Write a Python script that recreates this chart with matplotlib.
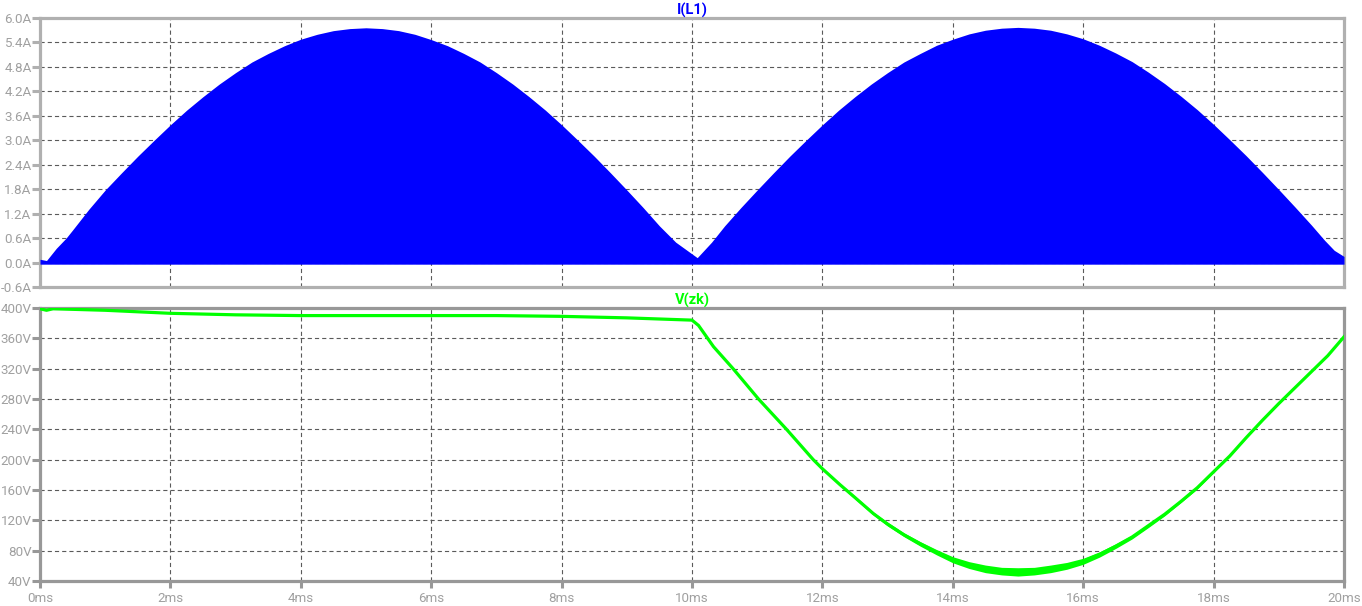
import matplotlib
matplotlib.use("Agg")
import numpy as np
import matplotlib.pyplot as plt

# I(L1): upper envelope of the switched inductor current (A)
t_il = [0, 0.1, 0.15, 0.25, 0.4, 0.5, 0.75, 1.0, 1.25, 1.5, 1.75, 2.0, 2.25, 2.5,
        2.75, 3.0, 3.25, 3.5, 3.75, 4.0, 4.25, 4.5, 4.75, 5.0, 5.25, 5.5, 5.75,
        6.0, 6.25, 6.5, 6.75, 7.0, 7.25, 7.5, 7.75, 8.0, 8.25, 8.5, 8.75, 9.0,
        9.25, 9.5, 9.75, 10.08, 10.3, 10.5, 10.75, 11.0, 11.25, 11.5, 11.75,
        12.0, 12.25, 12.5, 12.75, 13.0, 13.25, 13.5, 13.75, 14.0, 14.25, 14.5,
        14.75, 15.0, 15.25, 15.5, 15.75, 16.0, 16.25, 16.5, 16.75, 17.0, 17.25,
        17.5, 17.75, 18.0, 18.25, 18.5, 18.75, 19.0, 19.25, 19.5, 19.7, 19.85,
        20.0]
il_peak = [0.08, 0.05, 0.15, 0.35, 0.60, 0.80, 1.31, 1.78, 2.20, 2.61, 3.00, 3.38,
           3.74, 4.07, 4.38, 4.66, 4.92, 5.13, 5.32, 5.48, 5.60, 5.69, 5.74, 5.76,
           5.74, 5.69, 5.60, 5.47, 5.32, 5.13, 4.92, 4.66, 4.38, 4.07, 3.74, 3.38,
           3.00, 2.61, 2.20, 1.78, 1.35, 0.90, 0.50, 0.12, 0.50, 0.90, 1.35, 1.78,
           2.20, 2.61, 3.00, 3.38, 3.74, 4.07, 4.38, 4.66, 4.92, 5.13, 5.33, 5.48,
           5.61, 5.70, 5.75, 5.77, 5.75, 5.70, 5.61, 5.49, 5.33, 5.14, 4.93, 4.67,
           4.39, 4.08, 3.75, 3.39, 3.01, 2.62, 2.21, 1.79, 1.36, 0.92, 0.55, 0.30,
           0.15]
il_floor = -0.04

# V(zk): DC-link voltage (V) and its ripple band (peak-to-peak, V)
t_vzk = [0, 0.1, 0.2, 1.0, 2.0, 3.0, 4.0, 5.0, 6.0, 7.0, 8.0, 9.0, 10.0,
         10.1, 10.33, 10.63, 11.02, 11.45, 11.86, 12.0, 12.27, 12.5, 12.78,
         13.0, 13.25, 13.5, 13.75, 14.0, 14.25, 14.5, 14.75, 15.0, 15.25, 15.5,
         15.75, 16.0, 16.25, 16.5, 16.75, 17.0, 17.25, 17.5, 17.75, 18.0, 18.25,
         18.5, 18.75, 19.0, 19.25, 19.5, 19.75, 19.9, 20.0]
v_zk = [399, 397, 399, 397, 393, 391, 390, 390, 390, 390, 389, 387, 384,
        377, 349, 320, 280, 240, 200, 188, 167, 150, 129,
        115, 101, 89, 78, 68, 61, 56, 53, 52, 53, 56,
        60, 66, 75, 86, 98, 113, 128, 145, 163, 184, 205,
        229, 252, 274, 295, 316, 337, 352, 362]
v_ripple = [0, 0, 0, 0, 0, 0, 0, 0, 0, 0, 0, 0, 0,
            0, 0, 1, 1, 2, 2, 3, 3, 4, 4,
            5, 5, 6, 7, 8, 9, 10, 10, 11, 10, 10,
            9, 8, 7, 6, 5, 5, 4, 3, 3, 2, 2,
            1, 1, 1, 0, 0, 0, 0, 0]

x_ticks = list(range(0, 21, 2))
x_labels = [f"{v}ms" for v in x_ticks]
il_ticks = [round(-0.6 + 0.6 * k, 1) for k in range(12)]
il_labels = [f"{v:.1f}A" for v in il_ticks]
vzk_ticks = list(range(40, 401, 40))
vzk_labels = [f"{v}V" for v in vzk_ticks]

plt.rcParams["lines.scale_dashes"] = False
plt.rcParams["font.family"] = ["Roboto", "DejaVu Sans"]
W, H = 1362, 606
fig = plt.figure(figsize=(W / 100, H / 100), dpi=100)
fig.patch.set_facecolor("white")

ax1 = fig.add_axes([40 / W, 1 - 287 / H, 1304 / W, 269 / H])
ax2 = fig.add_axes([40 / W, 1 - 581 / H, 1304 / W, 273 / H])

tick_col = "#a0a0a0"
grid_kw = dict(color="#5a5a5a", linestyle=(0, (3.0, 2.2)), linewidth=0.8)


def style(ax, spine_col, yticks, ylabels, ylim, show_x):
    ax.set_xlim(0, 20)
    ax.set_ylim(*ylim)
    ax.set_yticks(yticks)
    ax.set_yticklabels(ylabels)
    ax.set_xticks(x_ticks)
    if show_x:
        ax.set_xticklabels(x_labels)
        ax.tick_params(axis="x", length=5, width=2.2, color=spine_col,
                       labelcolor=tick_col, labelsize=9.6, pad=3)
    else:
        ax.tick_params(axis="x", length=0, labelbottom=False)
    ax.tick_params(axis="y", length=5.5, width=2.2, color=spine_col,
                   labelcolor=tick_col, labelsize=9.6, pad=0.5)
    for s in ax.spines.values():
        s.set_color(spine_col)
        s.set_linewidth(2.3)
    ax.grid(True, **grid_kw)
    ax.set_axisbelow(True)


style(ax1, "#b0b0b0", il_ticks, il_labels, (-0.6, 6.0), False)
style(ax2, "#989898", vzk_ticks, vzk_labels, (40, 400), True)

# current: switching is so dense it renders as a solid area
ax1.fill_between(t_il, il_floor, il_peak, color="#0000ff", linewidth=0, zorder=3)
ax1.set_title("I(L1)", color="#0000ff", fontsize=10.5, fontweight="bold", pad=2)

v = np.array(v_zk, dtype=float)
r = np.array(v_ripple, dtype=float)
ax2.fill_between(t_vzk, v - r / 2, v + r / 2, color="#00ff00", linewidth=0, zorder=3)
ax2.plot(t_vzk, v, color="#00ff00", linewidth=2.3, zorder=3)
ax2.set_title("V(zk)", color="#00ff00", fontsize=10.5, fontweight="bold", pad=2)

fig.savefig("out.png", dpi=100, facecolor="white")
